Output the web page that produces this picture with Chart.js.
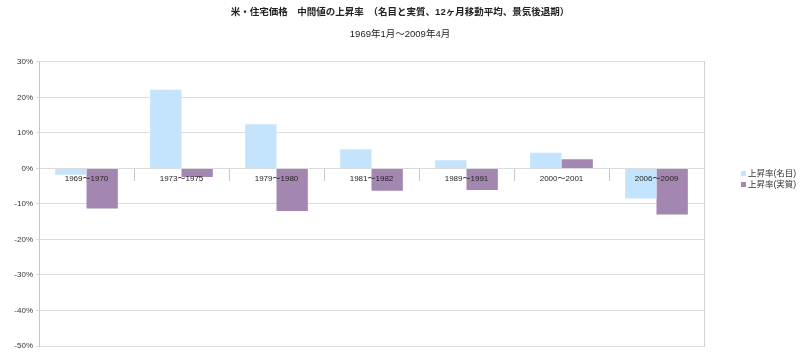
<!DOCTYPE html>
<html>
<head>
<meta charset="utf-8">
<script src="https://cdn.jsdelivr.net/npm/chart.js@4.4.0/dist/chart.umd.min.js"></script>
<style>
html,body{margin:0;padding:0;background:#fff;}
#wrap{width:800px;height:364px;position:relative;}
</style>
</head>
<body>
<div id="wrap"><canvas id="c" width="800" height="364"></canvas></div>
<script>
const categories = ["1969～1970","1973～1975","1979～1980","1981～1982","1989～1991","2000～2001","2006～2009"];
const nominal = [-1.8, 22.1, 12.4, 5.4, 2.3, 4.4, -8.5];
const real = [-11.3, -2.4, -12.0, -6.3, -6.1, 2.6, -13.0];
const seriesNames = ["上昇率(名目)", "上昇率(実質)"];
const seriesColors = ["#c4e4fd", "#a487b0"];
const yTicks = [30, 20, 10, 0, -10, -20, -30, -40, -50];
const titleText = "米・住宅価格　中間値の上昇率　（名目と実質、12ヶ月移動平均、景気後退期）";
const subtitleText = "1969年1月～2009年4月";

const FONT = "'Liberation Sans', 'Noto Sans CJK JP', sans-serif";

const legendDraw = {
  id: 'legendDraw',
  afterDraw(chart) {
    const ctx = chart.ctx;
    ctx.save();
    ctx.font = "8.5px " + FONT;
    ctx.textBaseline = 'middle';
    const ys = [174, 185];
    chart.data.datasets.forEach((ds, i) => {
      ctx.fillStyle = ds.backgroundColor;
      ctx.fillRect(741, ys[i] - 3, 5, 5);
      ctx.fillStyle = '#333';
      ctx.fillText(ds.label, 748, ys[i]);
    });
    ctx.restore();
  }
};

new Chart(document.getElementById('c'), {
  type: 'bar',
  data: {
    labels: categories,
    datasets: [
      { label: seriesNames[0], data: nominal, backgroundColor: seriesColors[0], borderWidth: 0 },
      { label: seriesNames[1], data: real, backgroundColor: seriesColors[1], borderWidth: 0 }
    ]
  },
  options: {
    responsive: false,
    animation: false,
    devicePixelRatio: 1,
    layout: { padding: { left: 0, right: 0, top: 0, bottom: 18 } },
    datasets: { bar: { categoryPercentage: 0.66, barPercentage: 1.0 } },
    plugins: {
      legend: { display: false },
      tooltip: { enabled: false },
      title: {
        display: true, text: titleText, color: '#222',
        font: { family: FONT, size: 9.5, weight: 'bold', lineHeight: 1.2 },
        padding: { top: 7, bottom: 9 }
      },
      subtitle: {
        display: true, text: subtitleText, color: '#222',
        font: { family: FONT, size: 9.5, lineHeight: 1.2 },
        padding: { top: 1, bottom: 22 }
      }
    },
    scales: {
      x: {
        position: { y: 0 },
        offset: true,
        border: { display: false },
        grid: { display: true, drawOnChartArea: false, drawTicks: true, tickLength: 13, color: '#c8c8c8', offset: true },
        ticks: { z: 1, color: '#222', font: { family: FONT, size: 8 }, padding: -7, maxRotation: 0, autoSkip: false }
      },
      y: {
        min: -50, max: 30,
        afterFit(scale) { scale.width = 39; },
        afterBuildTicks(scale) { scale.ticks = yTicks.map(v => ({ value: v })); },
        border: { display: true, color: '#c8c8c8' },
        grid: { color: '#dcdcdc', tickLength: 3 },
        ticks: { color: '#333', font: { family: FONT, size: 8 }, padding: 3, callback: v => v + '%' }
      },
      yRight: {
        position: 'right',
        min: -50, max: 30,
        afterFit(scale) { scale.width = 96; },
        border: { display: true, color: '#d4d4d4' },
        grid: { drawOnChartArea: false, drawTicks: false },
        ticks: { display: false }
      }
    }
  },
  plugins: [legendDraw]
});
</script>
</body>
</html>
